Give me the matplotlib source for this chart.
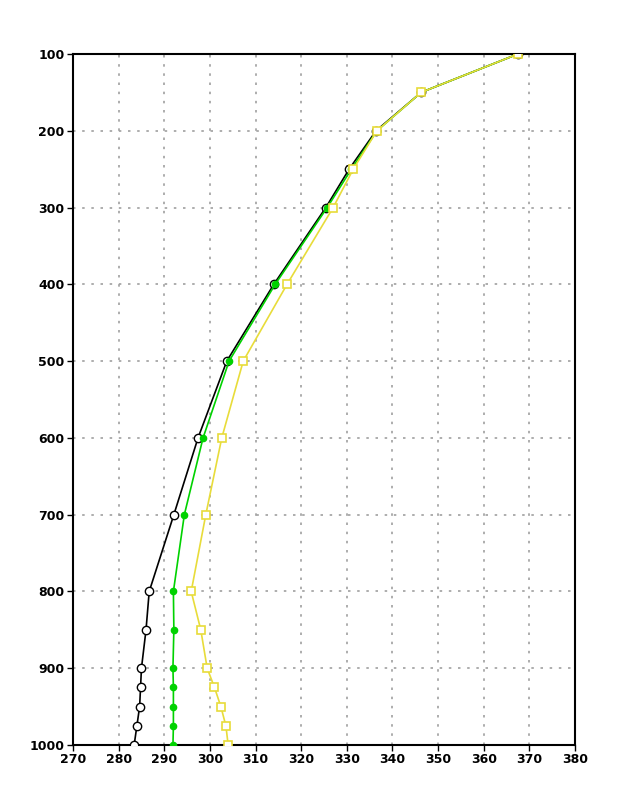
import matplotlib
matplotlib.use("Agg")
import matplotlib.pyplot as plt

levels = [1000, 975, 950, 925, 900, 850, 800, 700, 600, 500, 400, 300, 250, 200, 150, 100]
black_vals = [283.4, 284.0, 284.6, 284.8, 285.0, 286.0, 286.7, 292.1, 297.4, 303.7, 314.0, 325.4, 330.5, 336.4, 346.3, 367.5]
green_vals = [291.9, 292.0, 292.0, 292.0, 291.9, 292.1, 292.0, 294.4, 298.5, 304.2, 314.3, 325.7, 331.0, 336.6, 346.3, 367.5]
yellow_vals = [304.0, 303.5, 302.4, 301.0, 299.4, 298.0, 295.9, 299.1, 302.6, 307.3, 316.9, 327.0, 331.4, 336.6, 346.3, 367.5]
xticks = [270, 280, 290, 300, 310, 320, 330, 340, 350, 360, 370, 380]
yticks = [100, 200, 300, 400, 500, 600, 700, 800, 900, 1000]

fig = plt.figure(figsize=(6.18, 8), dpi=100)
ax = fig.add_axes([73/618, 55/800, 502/618, 691/800])

ax.plot(black_vals, levels, color='black', lw=1.2, marker='o', ms=6,
        mfc='white', mec='black', mew=1.0, zorder=3)
ax.plot(green_vals, levels, color='#00d200', lw=1.2, marker='o', ms=4.5,
        mfc='#00d200', mec='#00d200', zorder=4)
ax.plot(yellow_vals, levels, color='#e8dc3a', lw=1.2, marker='s', ms=6,
        mfc='white', mec='#e8dc3a', mew=1.2, zorder=5)

ax.set_xlim(270, 380)
ax.set_ylim(1000, 100)
ax.set_xticks(xticks)
ax.set_yticks(yticks)
ax.set_xticklabels([str(v) for v in xticks], fontweight='bold', fontsize=9)
ax.set_yticklabels([str(v) for v in yticks], fontweight='bold', fontsize=9)
ax.tick_params(direction='out', length=4, width=1, pad=2)
ax.grid(True, color='#a0a0a0', linestyle=(0, (1.5, 4)), lw=1.2)
for s in ax.spines.values():
    s.set_linewidth(1.5)
    s.set_linestyle((0, (4, 1)))
    s.set_color('black')

fig.savefig('out.png', dpi=100)
